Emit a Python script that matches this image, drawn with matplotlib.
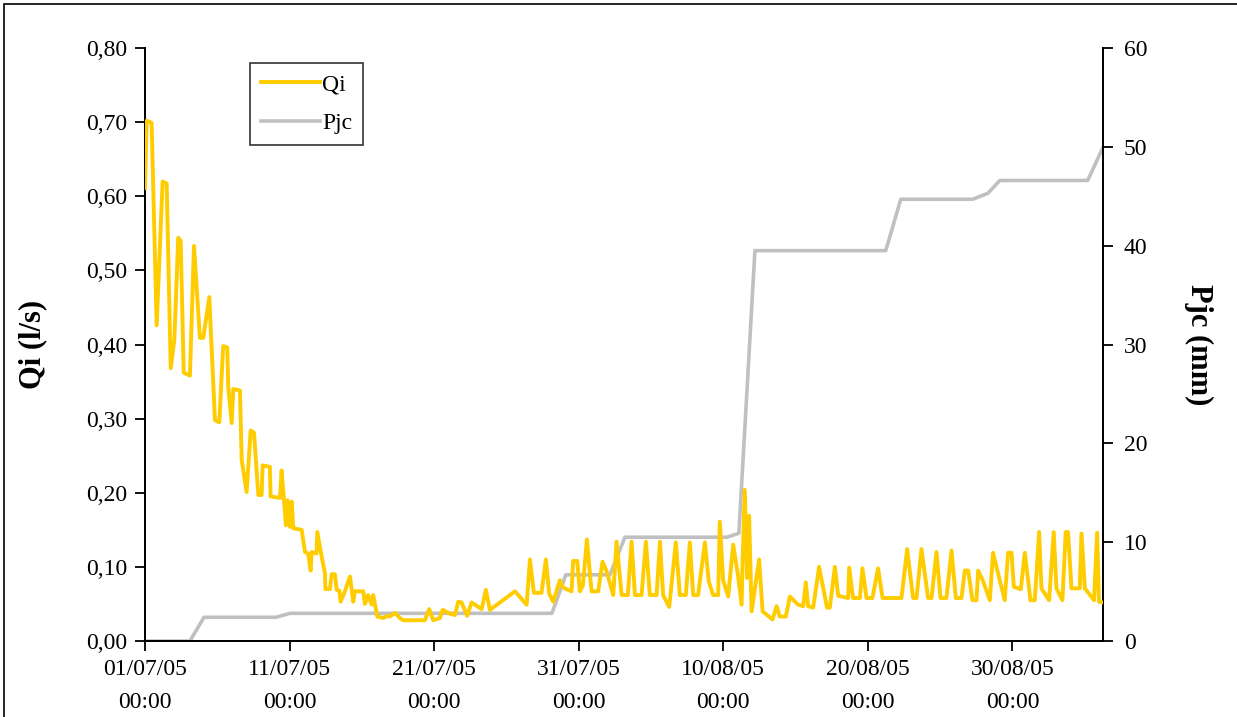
import numpy as np
import pandas as pd
import matplotlib
matplotlib.use('Agg')
import matplotlib.pyplot as plt
import matplotlib.dates as mdates
from matplotlib.ticker import FuncFormatter, MultipleLocator

plt.rcParams['font.family'] = ['Liberation Serif', 'DejaVu Serif']

start = pd.Timestamp('2005-07-01 00:00')

# Qi: instantaneous discharge (l/s), time in days since 01/07/05 00:00
qi_days = [0.00, 0.12, 0.46, 0.81, 1.22, 1.50, 1.78, 2.03, 2.30, 2.47, 2.68, 3.11,
           3.39, 3.80, 4.03, 4.45, 4.84, 5.14, 5.41, 5.69, 5.76, 6.00, 6.11, 6.57,
           6.69, 7.03, 7.31, 7.54, 7.84, 8.07, 8.14, 8.64, 8.69, 9.34, 9.45, 9.75,
           9.87, 10.03, 10.15, 10.26, 10.84, 11.07, 11.29, 11.46, 11.53, 11.87, 11.92,
           12.22, 12.45, 12.48, 12.79, 12.91, 13.14, 13.26, 13.44, 13.53, 13.83, 14.18,
           14.41, 14.52, 15.10, 15.21, 15.44, 15.68, 15.79, 16.07, 16.48, 16.80, 16.94,
           17.29, 17.63, 17.86, 19.36, 19.66, 19.94, 20.40, 20.59, 21.09, 21.44, 21.67,
           21.90, 22.29, 22.59, 22.98, 23.29, 23.58, 23.86, 25.59, 26.40, 26.63, 26.90,
           27.43, 27.73, 27.96, 28.24, 28.70, 28.93, 29.51, 29.62, 29.90, 30.08, 30.29,
           30.57, 30.89, 31.35, 31.65, 31.93, 32.39, 32.62, 32.97, 33.40, 33.66, 33.89,
           34.35, 34.65, 34.92, 35.39, 35.62, 35.84, 36.26, 36.72, 37.00, 37.41, 37.69,
           37.92, 38.26, 38.73, 39.00, 39.30, 39.65, 39.76, 39.99, 40.34, 40.69, 41.03,
           41.27, 41.34, 41.49, 41.65, 41.79, 41.96, 42.48, 42.72, 43.41, 43.69, 43.91,
           44.33, 44.61, 45.18, 45.53, 45.71, 45.87, 46.22, 46.63, 47.18, 47.37, 47.72,
           47.95, 48.64, 48.71, 48.98, 49.45, 49.63, 49.91, 50.32, 50.71, 51.02, 52.33,
           52.72, 53.13, 53.37, 53.71, 54.17, 54.41, 54.75, 55.03, 55.44, 55.79, 56.09,
           56.48, 56.71, 56.94, 57.24, 57.52, 57.63, 57.97, 58.44, 58.66, 59.47, 59.70,
           59.94, 60.10, 60.58, 60.86, 61.25, 61.55, 61.85, 62.01, 62.54, 62.86, 63.05,
           63.46, 63.69, 63.85, 64.09, 64.66, 64.78, 65.01, 65.65, 65.86, 65.99, 66.27]
qi = [0.611, 0.702, 0.699, 0.426, 0.620, 0.617, 0.368, 0.406, 0.544, 0.540, 0.362, 0.358,
      0.533, 0.409, 0.409, 0.464, 0.298, 0.295, 0.398, 0.396, 0.343, 0.294, 0.340, 0.338,
      0.244, 0.201, 0.284, 0.281, 0.197, 0.197, 0.237, 0.235, 0.195, 0.193, 0.230, 0.156,
      0.190, 0.154, 0.188, 0.152, 0.150, 0.120, 0.118, 0.095, 0.120, 0.118, 0.147,
      0.114, 0.091, 0.070, 0.070, 0.090, 0.090, 0.069, 0.068, 0.053, 0.067, 0.087,
      0.053, 0.067, 0.067, 0.050, 0.062, 0.049, 0.062, 0.033, 0.031, 0.034, 0.033,
      0.038, 0.031, 0.028, 0.028, 0.043, 0.028, 0.031, 0.042, 0.037, 0.035, 0.053,
      0.052, 0.034, 0.052, 0.047, 0.043, 0.069, 0.042, 0.067, 0.049, 0.110, 0.065,
      0.065, 0.110, 0.064, 0.053, 0.082, 0.072, 0.067, 0.108, 0.108, 0.067, 0.075,
      0.137, 0.067, 0.067, 0.107, 0.094, 0.062, 0.134, 0.062, 0.062, 0.134, 0.062,
      0.062, 0.134, 0.062, 0.062, 0.134, 0.062, 0.046, 0.133, 0.062, 0.062, 0.133,
      0.062, 0.062, 0.133, 0.080, 0.062, 0.062, 0.161, 0.082, 0.060, 0.130, 0.087,
      0.049, 0.109, 0.204, 0.085, 0.169, 0.040, 0.110, 0.040, 0.029, 0.047, 0.033,
      0.033, 0.060, 0.049, 0.047, 0.079, 0.047, 0.045, 0.100, 0.045, 0.045, 0.100,
      0.061, 0.058, 0.099, 0.058, 0.058, 0.098, 0.058, 0.058, 0.098, 0.058, 0.058,
      0.124, 0.058, 0.058, 0.124, 0.058, 0.058, 0.120, 0.058, 0.058, 0.122, 0.058,
      0.058, 0.095, 0.095, 0.055, 0.055, 0.095, 0.081, 0.055, 0.119, 0.055, 0.119,
      0.119, 0.073, 0.070, 0.119, 0.055, 0.055, 0.147, 0.071, 0.055, 0.147, 0.071,
      0.055, 0.147, 0.147, 0.071, 0.071, 0.145, 0.071, 0.055, 0.146, 0.053, 0.052]

# Pjc: cumulative rainfall (mm)
pjc_days = [0.00, 3.11, 4.08, 9.06, 10.03, 28.15, 29.11, 32.16, 33.20, 40.25, 41.08,
            42.19, 51.24, 52.28, 57.26, 58.30, 59.13, 65.21, 66.25]
pjc = [0.0, 0.0, 2.4, 2.4, 2.8, 2.8, 6.7, 6.7, 10.5, 10.5, 10.9,
       39.5, 39.5, 44.7, 44.7, 45.3, 46.6, 46.6, 49.9]

qi_t = start + pd.to_timedelta(qi_days, unit='D')
pjc_t = start + pd.to_timedelta(pjc_days, unit='D')

fig = plt.figure(figsize=(12.37, 7.17), dpi=100)
ax = fig.add_axes([0.1172, 0.106, 0.7745, 0.827])
ax2 = ax.twinx()

l1, = ax.plot(qi_t, qi, color='#FFCC00', lw=2.8, label='Qi', zorder=3)
l2, = ax2.plot(pjc_t, pjc, color='#C0C0C0', lw=2.6, label='Pjc', zorder=2)
ax.set_zorder(ax2.get_zorder() + 1)
ax.patch.set_visible(False)

ax.set_xlim(start, start + pd.Timedelta(days=66.27))
ax.set_ylim(0, 0.80)
ax2.set_ylim(0, 60)

ticks = [start + pd.Timedelta(days=d) for d in range(0, 61, 10)]
ax.set_xticks(ticks)
ax.xaxis.set_major_formatter(mdates.DateFormatter('%d/%m/%y\n%H:%M'))
ax.yaxis.set_major_locator(MultipleLocator(0.1))
ax.yaxis.set_major_formatter(FuncFormatter(lambda v, p: ('%.2f' % v).replace('.', ',')))
ax2.yaxis.set_major_locator(MultipleLocator(10))

for a in (ax, ax2):
    a.spines['top'].set_visible(False)
    for s in a.spines.values():
        s.set_linewidth(1.3)
    a.tick_params(direction='out', length=7, width=1.3, labelsize=17)
ax.tick_params(axis='x', pad=6)
ax.tick_params(axis='y', pad=6)
ax2.tick_params(axis='y', pad=8)
for lab in ax.get_xticklabels():
    lab.set_linespacing(1.75)

ax.set_ylabel('Qi (l/s)', fontsize=22, fontweight='bold', labelpad=28)
ax2.set_ylabel('Pjc (mm)', fontsize=22, fontweight='bold', rotation=-90, labelpad=47)

leg = ax.legend(handles=[l1, l2], loc='upper left', bbox_to_anchor=(0.11, 0.975),
                fontsize=17, frameon=True, fancybox=False, handlelength=2.5,
                borderpad=0.45, labelspacing=0.75, handletextpad=0.1, borderaxespad=0)
leg.get_frame().set_edgecolor('black')
leg.get_frame().set_linewidth(1.2)

# outer frame
fig.patches.append(plt.Rectangle((0.003, -0.01), 1.1, 1.005, transform=fig.transFigure,
                                 fill=False, edgecolor='black', lw=1.2))

fig.savefig('out.png', dpi=100)
